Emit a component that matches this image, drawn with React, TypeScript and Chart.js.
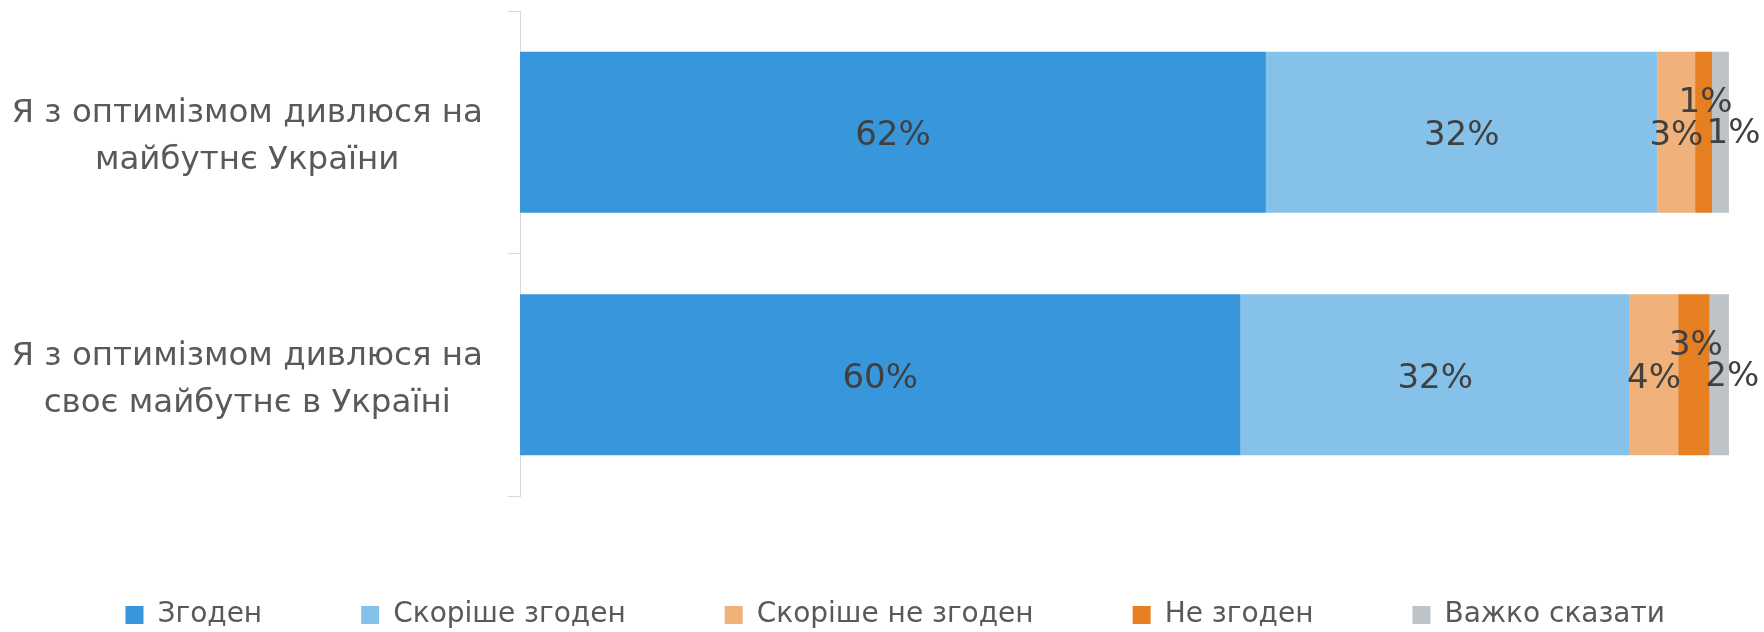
import React, { useEffect, useRef } from 'react';
import { Chart, registerables } from 'chart.js';

Chart.register(...registerables);

// ---- data ----
const categories: string[][] = [
  ['Я з оптимізмом дивлюся на', 'майбутнє України'],
  ['Я з оптимізмом дивлюся на', 'своє майбутнє в Україні'],
];
const seriesNames = ['Згоден', 'Скоріше згоден', 'Скоріше не згоден', 'Не згоден', 'Важко сказати'];
const agree = [61.7, 59.6];
const ratherAgree = [32.4, 32.2];
const ratherDisagree = [3.1, 4.0];
const disagree = [1.4, 2.6];
const hardToSay = [1.4, 1.6];

const seriesColors = ['#3897DB', '#85C1E9', '#F0B27A', '#E67E22', '#BDC3C7'];

const FONT = "'DejaVu Sans', Verdana, sans-serif";

const dataLabelPlugin = {
  id: 'dataLabels',
  afterDatasetsDraw(chart: any) {
    const ctx = chart.ctx;
    // small-segment label nudges (mimic spreadsheet overlap avoidance)
    const shift: number[][] = [[0, 0], [0, 0], [0, 0], [2, -33], [13, -2]];
    ctx.save();
    ctx.font = `34px ${FONT}`;
    ctx.fillStyle = '#404040';
    ctx.textAlign = 'center';
    ctx.textBaseline = 'middle';
    chart.data.datasets.forEach((ds: any, di: number) => {
      const meta = chart.getDatasetMeta(di);
      if (meta.hidden) return;
      meta.data.forEach((el: any, i: number) => {
        const v = ds.data[i];
        const cx = (el.x + el.base) / 2 + shift[di][0];
        const cy = el.y + 4 + shift[di][1];
        ctx.fillText(Math.round(v) + '%', cx, cy);
      });
    });
    ctx.restore();
  },
};

export default function App() {
  const ref = useRef<HTMLCanvasElement | null>(null);

  useEffect(() => {
    document.body.style.margin = '0';
    const canvas = ref.current;
    if (!canvas) return;
    const seriesData = [agree, ratherAgree, ratherDisagree, disagree, hardToSay];
    const chart = new Chart(canvas, {
      type: 'bar',
      data: {
        labels: categories as any,
        datasets: seriesNames.map((name, i) => ({
          label: name,
          data: seriesData[i],
          backgroundColor: seriesColors[i],
          borderWidth: 0,
          categoryPercentage: 1,
          barPercentage: 0.663,
        })),
      },
      options: {
        indexAxis: 'y',
        responsive: false,
        devicePixelRatio: 1,
        animation: false,
        layout: { padding: { top: 11, right: 0, left: 0, bottom: 0 } },
        scales: {
          x: {
            stacked: true,
            min: 0,
            max: 102.9,
            display: false,
          },
          y: {
            stacked: true,
            position: 'left',
            grid: {
              display: true,
              drawOnChartArea: false,
              drawTicks: true,
              tickLength: 12,
              color: '#D9D9D9',
              offset: true,
            },
            border: { display: true, color: '#D9D9D9', width: 1 },
            ticks: {
              font: { family: FONT, size: 32.5, lineHeight: 1.446 },
              color: '#595959',
              crossAlign: 'center',
              padding: 25,
              labelOffset: 5,
            },
            afterFit(scale: any) {
              scale.width = 520;
              scale.paddingTop = 0;
              scale.paddingBottom = 0;
            },
          },
        },
        plugins: {
          legend: {
            display: true,
            position: 'bottom',
            align: 'end',
            maxHeight: 136,
            title: {
              display: true,
              text: ' ',
              font: { size: 6, lineHeight: 1 },
              padding: 0,
            },
            labels: {
              boxWidth: 18,
              boxHeight: 18,
              padding: 99,
              color: '#595959',
              font: { family: FONT, size: 28 },
            },
          },
          tooltip: { enabled: false },
        },
      },
      plugins: [dataLabelPlugin],
    } as any);
    return () => chart.destroy();
  }, []);

  return (
    <div style={{ position: 'fixed', left: 0, top: 0, width: 1764, height: 632, background: '#fff' }}>
      <canvas ref={ref} width={1764} height={632} style={{ display: 'block' }} />
    </div>
  );
}
